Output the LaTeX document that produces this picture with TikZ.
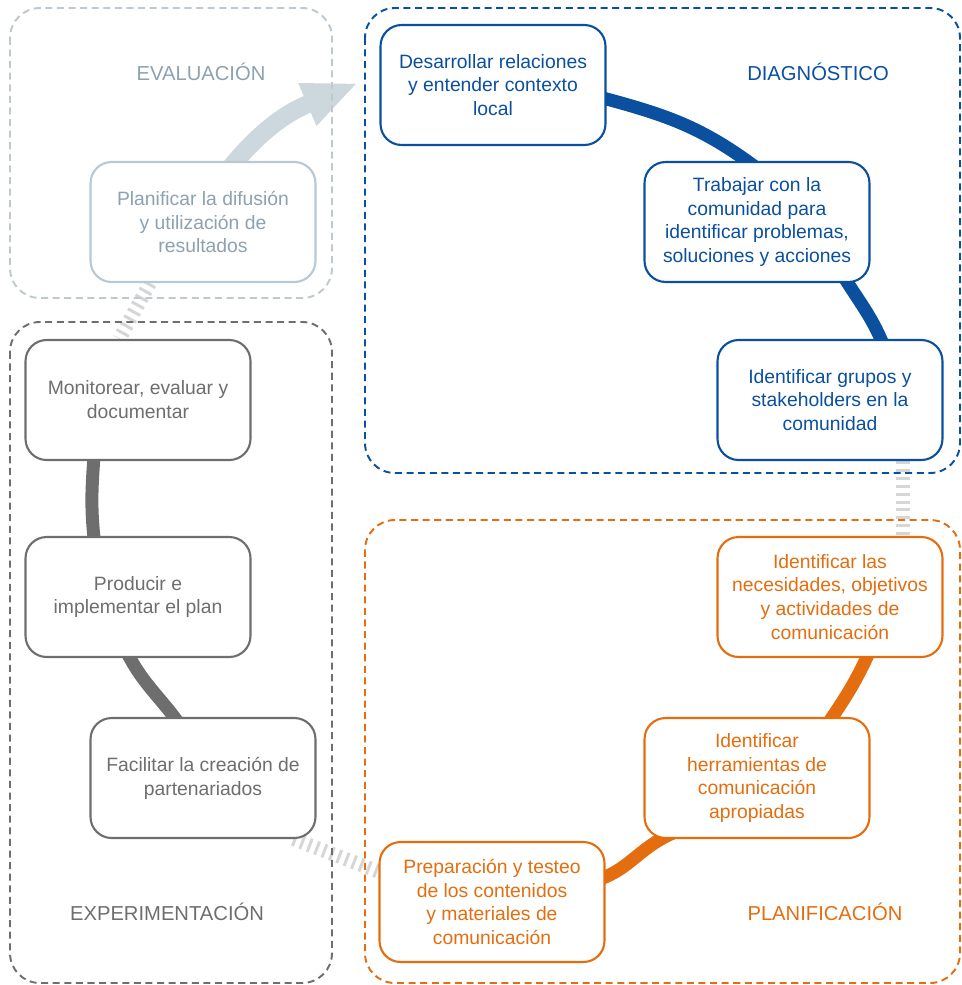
\documentclass[tikz,border=0pt]{standalone}
\usepackage{fontspec}
\setmainfont{Liberation Sans}
\usetikzlibrary{arrows.meta}
\definecolor{diag}{RGB}{11,80,158}
\definecolor{plan}{RGB}{228,110,15}
\definecolor{expe}{RGB}{110,110,110}
\definecolor{evalc}{RGB}{185,200,210}
\definecolor{evaltext}{RGB}{140,162,176}
\definecolor{evalframe}{RGB}{190,200,208}
\definecolor{evalarrow}{RGB}{205,215,222}
\definecolor{hatchgrey}{RGB}{214,214,214}
\pgfdeclarelayer{back}
\pgfdeclarelayer{frames}
\pgfsetlayers{back,frames,main}
\tikzset{
  stage/.style={draw=#1,text=#1,fill=white,line width=1.2pt,rounded corners=12pt,
    minimum width=4.5cm,minimum height=2.4cm,align=center,
    font=\fontsize{11}{13.6}\selectfont},
  stage/.default=diag,
  frame/.style={draw=#1,line width=1.1pt,dash pattern=on 4pt off 2.6pt,rounded corners=17pt},
  ring/.style={draw=#1,line width=0.26cm,shorten <=-0.3cm,shorten >=-0.3cm},
  hatch/.style={draw=hatchgrey,line width=0.28cm,dash pattern=on 1.7pt off 2.8pt},
  phase/.style={text=#1,font=\fontsize{11.5}{14}\selectfont},
  loop arrow/.style={draw=evalarrow,line width=0.36cm,shorten <=-0.3cm,
    -{Triangle[length=1.1cm,width=0.84cm]}},
}

\begin{document}
\begin{tikzpicture}[x=0.02cm,y=-0.02cm]
  \useasboundingbox (0,0) rectangle (962,985);
  % diagnostico
  \node[stage=diag] (rel) at (493,85) {Desarrollar relaciones\\y entender contexto\\local};
  \node[stage=diag] (com) at (757,222) {Trabajar con la\\comunidad para\\identificar problemas,\\soluciones y acciones};
  \node[stage=diag] (grp) at (830,400) {Identificar grupos y\\stakeholders en la\\comunidad};
  % planificacion
  \node[stage=plan] (nec) at (830,597) {Identificar las\\necesidades, objetivos\\y actividades de\\comunicación};
  \node[stage=plan] (her) at (757,778) {Identificar\\herramientas de\\comunicación\\apropiadas};
  \node[stage=plan] (prep) at (492,902) {Preparación y testeo\\de los contenidos\\y materiales de\\comunicación};
  % experimentacion
  \node[stage=expe] (part) at (203,778) {Facilitar la creación de\\partenariados};
  \node[stage=expe] (prod) at (138,597) {Producir e\\implementar el plan};
  \node[stage=expe] (mon) at (138,400) {Monitorear, evaluar y\\documentar};
  % evaluacion
  \node[stage=evalc,text=evaltext] (dif) at (203,222) {Planificar la difusión\\y utilización de\\resultados};

  \node[phase=evaltext] (levl) at (201,72) {EVALUACIÓN};
  \node[phase=diag] (ldia) at (818,72) {DIAGNÓSTICO};
  \node[phase=expe] (lexp) at (167,912) {EXPERIMENTACIÓN};
  \node[phase=plan] (lpla) at (825,912) {PLANIFICACIÓN};

  \begin{pgfonlayer}{frames}
    \draw[frame=evalframe] (10,8) rectangle (332,298);
    \draw[frame=diag] (365,8) rectangle (960,473);
    \draw[frame=expe] (10,322) rectangle (332,983);
    \draw[frame=plan] (365,520) rectangle (960,983);
    \draw[ring=diag] (rel.-7) to[out=-15,in=143] (com.99);
    \draw[ring=diag] (com.-34) to[out=-59,in=111] (grp.50);
    \draw[ring=plan] (nec.-59) to[out=-114,in=56] (her.39);
    \draw[ring=plan] (her.-148) to[out=-156,in=16] (prep.12);
    \draw[ring=expe] (part.115) to[out=125,in=-65] (prod.-98);
    \draw[ring=expe] (prod.126) to[out=97,in=-94] (mon.-126);
  \end{pgfonlayer}

  \begin{pgfonlayer}{back}
    \draw[hatch] (dif.-131) -- (mon.107);
    \draw[hatch] (part.-34) -- (prep.165);
    \draw[hatch] (grp.-40) -- (nec.40);
    \coordinate (tip) at (358,83);
    \draw[loop arrow] (dif.62) to[out=52,in=-157] (tip);
  \end{pgfonlayer}
\end{tikzpicture}
\end{document}
